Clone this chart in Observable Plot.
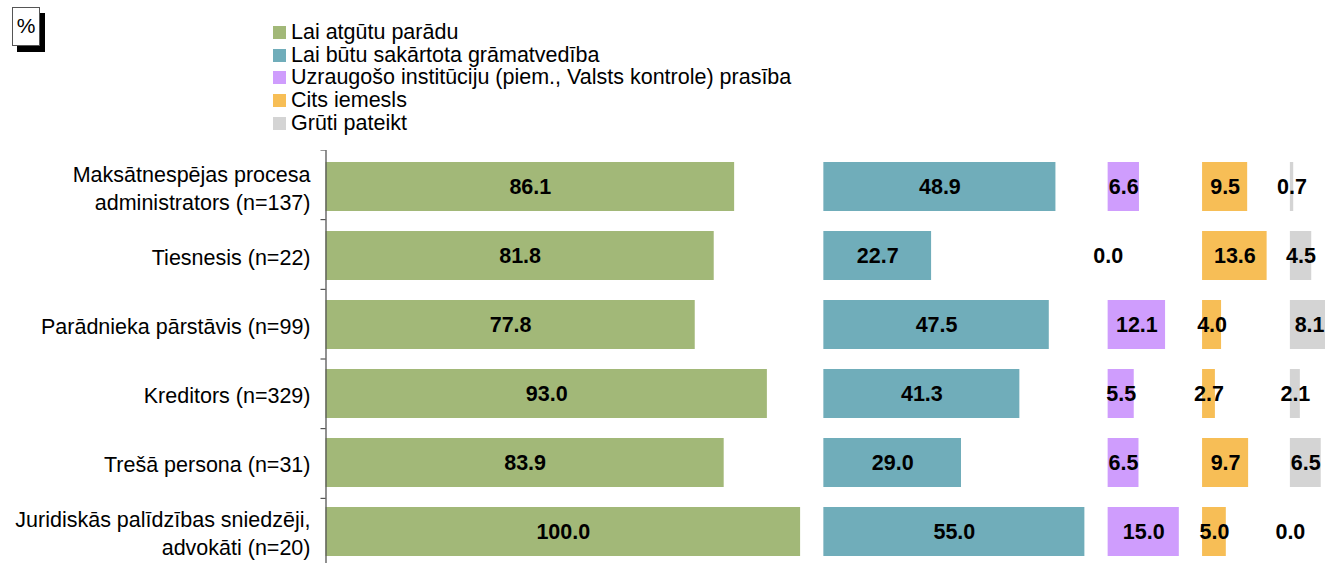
<!DOCTYPE html>
<html><head><meta charset="utf-8">
<script src="https://cdn.jsdelivr.net/npm/d3@7"></script>
<script src="https://cdn.jsdelivr.net/npm/@observablehq/plot@0.6"></script>
<style>
body{margin:0;background:#fff;font-family:Arial,"Liberation Sans",sans-serif;}
#wrap{position:relative;width:1325px;height:563px;overflow:hidden;}
#head{position:relative;height:150px;}
#chart svg{display:block;}
.pct{position:absolute;left:12px;top:7px;width:26px;height:37px;border:1px solid #555;background:#fff;box-shadow:5px 6px 0 #000;font-size:21px;text-align:center;line-height:36px;color:#000;}
.legend{position:absolute;left:273px;top:21px;font-size:21.5px;color:#000;}
.legend .row{height:22.7px;display:flex;align-items:center;white-space:nowrap;}
.legend .sw{width:13px;height:13px;margin-right:5px;flex:none;}
</style>
</head><body>
<div id="wrap">
  <div id="head">
    <div class="pct">%</div>
    <div class="legend" id="legend"></div>
  </div>
  <div id="chart"></div>
</div>
<script>
const categories = [
  "Maksātnespējas procesa\nadministrators (n=137)",
  "Tiesnesis (n=22)",
  "Parādnieka pārstāvis (n=99)",
  "Kreditors (n=329)",
  "Trešā persona (n=31)",
  "Juridiskās palīdzības sniedzēji,\nadvokāti (n=20)"
];
const seriesNames = [
  "Lai atgūtu parādu",
  "Lai būtu sakārtota grāmatvedība",
  "Uzraugošo institūciju (piem., Valsts kontrole) prasība",
  "Cits iemesls",
  "Grūti pateikt"
];
const seriesColors = ["#A2B878", "#70ADBA", "#CF9DFD", "#F7BE56", "#D4D4D4"];
const atgut  = [86.1, 81.8, 77.8, 93.0, 83.9, 100.0];
const gramat = [48.9, 22.7, 47.5, 41.3, 29.0, 55.0];
const uzraug = [6.6, 0.0, 12.1, 5.5, 6.5, 15.0];
const cits   = [9.5, 13.6, 4.0, 2.7, 9.7, 5.0];
const gruti  = [0.7, 4.5, 8.1, 2.1, 6.5, 0.0];
const seriesValues = [atgut, gramat, uzraug, cits, gruti];
const gap = 4.9;

// legend
const leg = document.getElementById("legend");
seriesNames.forEach((n, i) => {
  const r = document.createElement("div"); r.className = "row";
  const s = document.createElement("span"); s.className = "sw"; s.style.background = seriesColors[i];
  const t = document.createElement("span"); t.textContent = n;
  r.appendChild(s); r.appendChild(t); leg.appendChild(r);
});

// build table: each series in its own column block, offset by previous maxima + gap
const data = [];
let offset = 0;
seriesValues.forEach((vals, k) => {
  vals.forEach((v, i) => {
    data.push({cat: categories[i], series: seriesNames[k], value: v, x1: offset, x2: offset + v});
  });
  offset += d3.max(vals) + gap;
});

function bandTicks(index, scales, values, dimensions) {
  const g = document.createElementNS("http://www.w3.org/2000/svg", "g");
  const n = categories.length;
  const step = (dimensions.height - dimensions.marginTop - dimensions.marginBottom) / n;
  const x0 = scales.x(0);
  for (let i = 0; i <= n; i++) {
    const y = dimensions.marginTop + i * step;
    const l = document.createElementNS("http://www.w3.org/2000/svg", "line");
    l.setAttribute("x1", x0 - 5); l.setAttribute("x2", x0);
    l.setAttribute("y1", y); l.setAttribute("y2", y);
    l.setAttribute("stroke", "#333"); l.setAttribute("stroke-width", 1);
    g.appendChild(l);
  }
  return g;
}

const chart = Plot.plot({
  width: 1325,
  height: 418,
  marginLeft: 325.5,
  marginRight: 0,
  marginTop: 0,
  marginBottom: 0,
  style: {fontFamily: "Arial, 'Liberation Sans', sans-serif", background: "#fff", overflow: "hidden"},
  x: {domain: [0, 210.6], axis: null},
  y: {domain: categories, padding: 0, axis: null},
  color: {domain: seriesNames, range: seriesColors},
  marks: [
    Plot.barX(data, {y: "cat", x1: "x1", x2: "x2", fill: "series", insetTop: 10, insetBottom: 10}),
    Plot.text(data, {y: "cat", x: d => (d.x1 + d.x2) / 2, text: d => d.value.toFixed(1),
      fontWeight: "bold", fontSize: 21.5, fill: "#000"}),
    Plot.axisY({tickSize: 0, tickPadding: 15.5, fontSize: 21.5, lineHeight: 1.3, fill: "#000", textAnchor: "end", label: null}),
    Plot.ruleX([0], {stroke: "#555", strokeWidth: 1.3}),
    bandTicks
  ]
});
document.getElementById("chart").appendChild(chart);
</script>
</body></html>
